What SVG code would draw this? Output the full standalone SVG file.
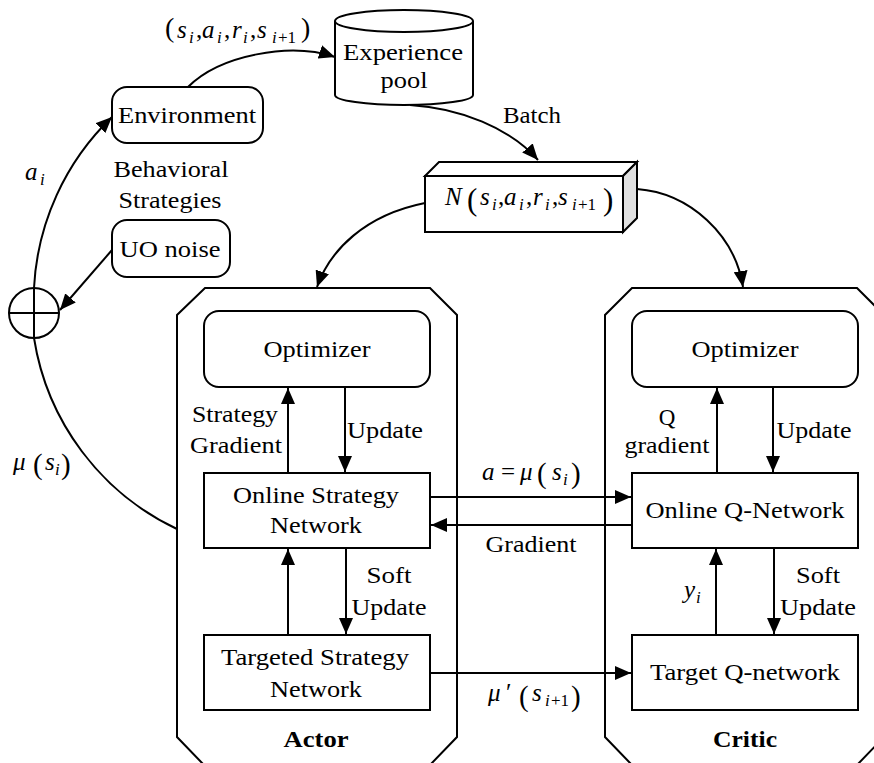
<svg xmlns="http://www.w3.org/2000/svg" width="874" height="763" viewBox="0 0 874 763" font-family="Liberation Serif, Times New Roman, serif">
<style>
text{font-family:"Liberation Serif","Times New Roman",serif}
.t{font-size:23px;fill:#000;text-anchor:middle}
.b{font-weight:bold}
.m{font-size:25px;fill:#000}
.mi{font-style:italic}
.sb{font-style:italic;font-size:17px}
.su{font-size:17px;font-style:normal}
.p{font-style:normal}
.ln{fill:none;stroke:#000;stroke-width:2}
.bx{fill:#fff;stroke:#000;stroke-width:2}
</style>
<defs>
<marker id="ah" viewBox="0 0 16 14" refX="16" refY="7" markerWidth="16" markerHeight="14" markerUnits="userSpaceOnUse" orient="auto">
<path d="M0,0 L16,7 L0,14 Z" fill="#000"/>
</marker>
</defs>

<g id="actor-group">
<path class="bx" d="M205,288 L430,288 L457,315 L457,737 L430,765 L204,765 L177,737 L177,315 Z"/>
<text class="t b" x="316" y="747" textLength="65" lengthAdjust="spacingAndGlyphs">Actor</text>
</g>
<g id="critic-group">
<path class="bx" d="M632,288 L857,288 L884,315 L884,737 L857,765 L632,765 L605,737 L605,315 Z"/>
<text class="t b" x="745" y="747" textLength="64" lengthAdjust="spacingAndGlyphs">Critic</text>
</g>

<g id="connectors">
<path class="ln" d="M34,288 A255,255 0 0 1 112,117" marker-end="url(#ah)"/>
<path class="ln" d="M34,338 A255,255 0 0 0 177,529"/>
<path class="ln" d="M112,250 L60,310" marker-end="url(#ah)"/>
<path class="ln" d="M188,87 C220,55 290,42 335,57" marker-end="url(#ah)"/>
<path class="ln" d="M410,105 C460,108 510,128 538,160" marker-end="url(#ah)"/>
<path class="ln" d="M425,203 C365,215 330,250 317,287" marker-end="url(#ah)"/>
<path class="ln" d="M637,189 C690,193 735,235 743,287" marker-end="url(#ah)"/>
<path class="ln" d="M288,473 L288,388" marker-end="url(#ah)"/>
<path class="ln" d="M345,387 L345,472" marker-end="url(#ah)"/>
<path class="ln" d="M717,473 L717,388" marker-end="url(#ah)"/>
<path class="ln" d="M773,387 L773,472" marker-end="url(#ah)"/>
<path class="ln" d="M430,497 L631,497" marker-end="url(#ah)"/>
<path class="ln" d="M632,525 L431,525" marker-end="url(#ah)"/>
<path class="ln" d="M288,635 L288,549" marker-end="url(#ah)"/>
<path class="ln" d="M346,548 L346,634" marker-end="url(#ah)"/>
<path class="ln" d="M716,635 L716,549" marker-end="url(#ah)"/>
<path class="ln" d="M774,548 L774,634" marker-end="url(#ah)"/>
<path class="ln" d="M430,673 L631,673" marker-end="url(#ah)"/>
</g>

<g id="sum">
<circle class="ln" cx="34" cy="313" r="25"/>
<path class="ln" d="M9,313 L59,313 M34,288 L34,338"/>
</g>

<g id="environment">
<rect class="bx" x="112" y="87" width="151" height="56" rx="15"/>
<text class="t" x="187" y="123" textLength="138" lengthAdjust="spacingAndGlyphs">Environment</text>
</g>

<g id="behavioral-label">
<text class="t" x="171" y="177" textLength="115" lengthAdjust="spacingAndGlyphs">Behavioral</text>
<text class="t" x="170" y="208" textLength="103" lengthAdjust="spacingAndGlyphs">Strategies</text>
</g>

<g id="uo-noise">
<rect class="bx" x="112" y="220" width="118" height="57" rx="15"/>
<text class="t" x="170" y="257" textLength="101" lengthAdjust="spacingAndGlyphs">UO noise</text>
</g>

<g id="experience-pool">
<path class="bx" d="M335,21 L335,95 A69,10 0 0 0 473,95 L473,21"/>
<ellipse class="bx" cx="404" cy="21" rx="69" ry="11"/>
<text class="t" x="403" y="60" textLength="120" lengthAdjust="spacingAndGlyphs">Experience</text>
<text class="t" x="404" y="88" textLength="47" lengthAdjust="spacingAndGlyphs">pool</text>
</g>

<g id="batch-box">
<path class="bx" d="M425,176 L439,162 L637,162 L623,176 Z"/>
<path d="M623,176 L637,162 L637,218 L623,232 Z" fill="#e0e0e0" stroke="#000" stroke-width="2"/>
<rect class="bx" x="425" y="176" width="198" height="56"/>
<text class="m"><tspan class="mi" x="445" y="205">N</tspan><tspan class="p" x="467" y="210" font-size="31">(</tspan><tspan class="mi" x="480" y="205">s</tspan><tspan class="sb" x="492" y="210">i</tspan><tspan class="p" x="498" y="205">,</tspan><tspan class="mi" x="504" y="205">a</tspan><tspan class="sb" x="519" y="210">i</tspan><tspan class="p" x="526" y="205">,</tspan><tspan class="mi" x="533" y="205">r</tspan><tspan class="sb" x="545" y="210">i</tspan><tspan class="p" x="552" y="205">,</tspan><tspan class="mi" x="558" y="205">s</tspan><tspan class="sb" x="572" y="210">i</tspan><tspan class="su" x="578" y="210">+1</tspan><tspan class="p" x="603" y="210" font-size="31">)</tspan></text>
</g>

<g id="batch-label">
<text class="t" x="532" y="123" textLength="58" lengthAdjust="spacingAndGlyphs">Batch</text>
</g>

<g id="transition-label">
<text class="m"><tspan class="p" x="165" y="37" font-size="28">(</tspan><tspan class="mi" x="177" y="38">s</tspan><tspan class="sb" x="189" y="43">i</tspan><tspan class="p" x="196" y="38">,</tspan><tspan class="mi" x="202" y="38">a</tspan><tspan class="sb" x="217" y="43">i</tspan><tspan class="p" x="224" y="38">,</tspan><tspan class="mi" x="232" y="38">r</tspan><tspan class="sb" x="243" y="43">i</tspan><tspan class="p" x="250" y="38">,</tspan><tspan class="mi" x="257" y="38">s</tspan><tspan class="sb" x="272" y="43">i</tspan><tspan class="su" x="278" y="43">+1</tspan><tspan class="p" x="301" y="37" font-size="28">)</tspan></text>
</g>

<g id="ai-label">
<text class="m"><tspan class="mi" x="25" y="180">a</tspan><tspan class="sb" x="40" y="185">i</tspan></text>
</g>

<g id="mu-label">
<text class="m"><tspan class="mi" x="13" y="470">μ</tspan><tspan class="p" x="33" y="474" font-size="29">(</tspan><tspan class="mi" x="45" y="470">s</tspan><tspan class="sb" x="55" y="475">i</tspan><tspan class="p" x="61" y="474" font-size="29">)</tspan></text>
</g>

<g id="actor-optimizer">
<rect class="bx" x="204" y="311" width="226" height="76" rx="15"/>
<text class="t" x="317" y="357" textLength="107" lengthAdjust="spacingAndGlyphs">Optimizer</text>
</g>
<g id="critic-optimizer">
<rect class="bx" x="632" y="311" width="226" height="76" rx="15"/>
<text class="t" x="745" y="357" textLength="107" lengthAdjust="spacingAndGlyphs">Optimizer</text>
</g>

<g id="actor-labels">
<text class="t" x="235" y="422" textLength="86" lengthAdjust="spacingAndGlyphs">Strategy</text>
<text class="t" x="236" y="453" textLength="92" lengthAdjust="spacingAndGlyphs">Gradient</text>
<text class="t" x="385" y="438" textLength="76" lengthAdjust="spacingAndGlyphs">Update</text>
<text class="t" x="389" y="583" textLength="45" lengthAdjust="spacingAndGlyphs">Soft</text>
<text class="t" x="389" y="615" textLength="75" lengthAdjust="spacingAndGlyphs">Update</text>
</g>

<g id="critic-labels">
<text class="t" x="667" y="425">Q</text>
<text class="t" x="667" y="453" textLength="85" lengthAdjust="spacingAndGlyphs">gradient</text>
<text class="t" x="814" y="438" textLength="75" lengthAdjust="spacingAndGlyphs">Update</text>
<text class="t" x="818" y="583" textLength="44" lengthAdjust="spacingAndGlyphs">Soft</text>
<text class="t" x="818" y="615" textLength="76" lengthAdjust="spacingAndGlyphs">Update</text>
<text class="m"><tspan class="mi" x="684" y="598">y</tspan><tspan class="sb" x="696" y="603">i</tspan></text>
</g>

<g id="online-strategy-network">
<rect class="bx" x="204" y="473" width="226" height="75"/>
<text class="t" x="316" y="503" textLength="166" lengthAdjust="spacingAndGlyphs">Online Strategy</text>
<text class="t" x="316" y="533" textLength="92" lengthAdjust="spacingAndGlyphs">Network</text>
</g>

<g id="targeted-strategy-network">
<rect class="bx" x="204" y="635" width="226" height="75"/>
<text class="t" x="315" y="665" textLength="188" lengthAdjust="spacingAndGlyphs">Targeted Strategy</text>
<text class="t" x="316" y="697" textLength="92" lengthAdjust="spacingAndGlyphs">Network</text>
</g>

<g id="online-q-network">
<rect class="bx" x="632" y="473" width="226" height="75"/>
<text class="t" x="745" y="518" textLength="199" lengthAdjust="spacingAndGlyphs">Online Q-Network</text>
</g>

<g id="target-q-network">
<rect class="bx" x="632" y="635" width="226" height="75"/>
<text class="t" x="745" y="680" textLength="190" lengthAdjust="spacingAndGlyphs">Target Q-network</text>
</g>

<g id="middle-labels">
<text class="m"><tspan class="mi" x="482" y="480">a</tspan><tspan class="p" x="501" y="480">=</tspan><tspan class="mi" x="520" y="480">μ</tspan><tspan class="p" x="537" y="483" font-size="29">(</tspan><tspan class="mi" x="552" y="480">s</tspan><tspan class="sb" x="563" y="485">i</tspan><tspan class="p" x="571" y="483" font-size="29">)</tspan></text>
<text class="t" x="531" y="552" textLength="91" lengthAdjust="spacingAndGlyphs">Gradient</text>
<text class="m"><tspan class="mi" x="488" y="701">μ</tspan><tspan class="p" x="506" y="701">′</tspan><tspan class="p" x="519" y="706" font-size="29">(</tspan><tspan class="mi" x="532" y="701">s</tspan><tspan class="sb" x="545" y="706">i</tspan><tspan class="su" x="551" y="706">+1</tspan><tspan class="p" x="571" y="706" font-size="29">)</tspan></text>
</g>
</svg>
